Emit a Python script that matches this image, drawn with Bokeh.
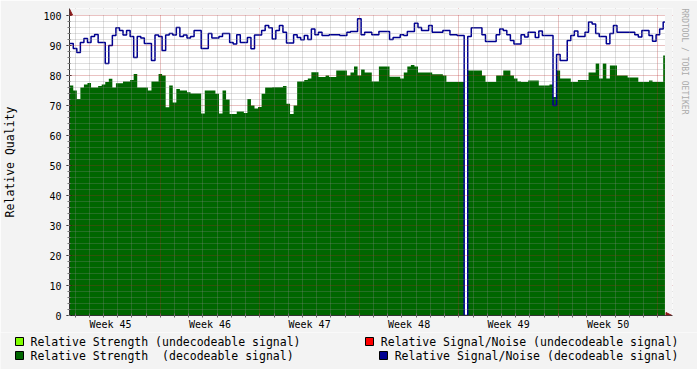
import numpy as np
from bokeh.plotting import figure
from bokeh.layouts import column
from bokeh.models import (Range1d, FixedTicker, Grid, BoxAnnotation, Arrow,
                          NormalHead, ColumnDataSource, Title)
from bokeh.core.properties import value
from bokeh.embed import file_html
from bokeh.resources import INLINE

# ---------------- data ----------------
week_numbers = [45, 46, 47, 48, 49, 50]
week_labels = ["Week 45", "Week 46", "Week 47", "Week 48", "Week 49", "Week 50"]
t_start = 0.625      # days since start of week 45
t_step = 0.25        # 6 hour samples
t_min, t_max = 0.61, 42.47

strength = [
    76.7, 75, 72.2, 76, 77, 77.5, 76, 76, 76.5, 77,
    77.8, 78.9, 76, 77.4, 77.4, 78, 78, 78.5, 80.5, 76,
    76, 76, 75, 78, 78, 80.5, 80, 69.4, 76.7, 71,
    75.5, 75, 75, 74.4, 74, 74, 74, 67.3, 75, 75,
    75, 73.9, 67.3, 75, 72, 67.2, 67.2, 68, 68, 67.5,
    72.2, 70, 69, 69.5, 73.9, 76, 76, 76.1, 76.1, 76.1,
    76.5, 70.6, 67.2, 70, 78, 78, 78.5, 79, 81.1, 81.1,
    79.5, 79.5, 80, 79.5, 79.5, 81.7, 81.7, 81.7, 80, 81,
    83, 80, 82, 81, 81, 78, 78, 83, 83, 83,
    79.6, 79.6, 79.6, 79, 81, 83, 83.5, 83, 81, 81,
    81, 81, 80.4, 80.4, 80.4, 80, 77.8, 77.8, 77.8, 77.8,
    77.8, 0, 81.7, 81.7, 81.7, 81.7, 80, 77.8, 77.8, 77.8,
    80, 80, 81.7, 81.7, 80, 79, 78, 77.8, 77.8, 78.3,
    78.3, 78.3, 76.7, 76.7, 76.7, 77, 72.8, 81.7, 79, 79,
    79, 77.8, 77.8, 78.5, 78.5, 78.5, 81, 81, 84, 79,
    84, 79, 83.3, 83.3, 80, 80, 80, 79.3, 79.3, 79.3,
    77.8, 77.8, 77.8, 78.3, 77.8, 77.8, 77.8, 86.7,
]

snr = [
    90.7, 89, 87.7, 91, 92.3, 91, 93, 93.7, 91, 91,
    84, 90, 93.3, 95.9, 95, 93.5, 95, 93, 86, 93,
    92.5, 90.7, 90.7, 85, 93.5, 93, 88.3, 93.5, 94, 93.5,
    96, 93, 93.5, 92.5, 93, 95, 95, 89, 89, 94,
    92.5, 92.5, 93, 94, 94, 91, 90.5, 93.6, 91, 91,
    92.7, 88.9, 93.5, 93.5, 95, 96.7, 95.9, 92.2, 95, 96.7,
    94.4, 90.8, 90.8, 93.6, 92.7, 91.9, 93.3, 92, 95.5, 93.6,
    94.4, 93.3, 93.3, 93.6, 93.6, 93.6, 93.3, 93.3, 94.4, 94.7,
    94.7, 98.9, 93.6, 94.4, 94.4, 93.6, 93.6, 94.7, 94.7, 94.7,
    92, 92.7, 92.7, 93.6, 93.3, 94.7, 94.7, 97.4, 96, 95,
    95, 96.7, 94.4, 94.4, 94.4, 95, 95, 93.6, 93.6, 93.3,
    93.3, 0, 93, 95.9, 95.9, 95.9, 93.6, 91.3, 91.3, 91.3,
    93.6, 95.5, 95, 93.6, 91.7, 90.5, 90.5, 93.6, 92.8, 94.4,
    94.4, 92.7, 94.8, 93.3, 93.3, 93.3, 70, 87, 85, 85,
    91.7, 93.3, 94.8, 93, 93, 94.4, 97.8, 97.2, 94, 93,
    93, 90.6, 94, 96.7, 94.4, 94.4, 94.4, 94.4, 94.4, 93.6,
    92.8, 95, 95, 93.3, 91.4, 93.6, 95.5, 97.8,
]

legend_labels = [
    "Relative Strength (undecodeable signal)",
    "Relative Strength\u00a0 (decodeable signal)",
    "Relative Signal/Noise (undecodeable signal)",
    "Relative Signal/Noise (decodeable signal)",
]
legend_colors = ["#80FF00", "#006600", "#FF0000", "#000090"]

# ---------------- styling / layout ----------------
FONT = "DejaVu Sans Mono"
BACK = "#F3F3F3"
GRID = "#8C8C8C"
MGRID = "#B22222"
ARROW = "#8B1A1A"
AXIS = "#333333"

W = 697
H_MAIN, H_LEG = 332, 37
LEFT, RIGHT, TOP, BOTTOM = 67, 24, 8, 17
DATA_W = 598                    # pixel width of the data area
px_per_day = DATA_W / (t_max - t_min)
px_per_unit = 3.0
x_end = t_max + 8 / px_per_day          # room for the x arrow
y_end = 100 + 7 / px_per_unit           # room for the y arrow

n = len(strength)
t = t_start + t_step * np.arange(n + 1)
src = ColumnDataSource(dict(
    t=t,
    s=np.append(np.array(strength, float), strength[-1]),
    q=np.append(np.array(snr, float), snr[-1]),
))

p = figure(width=W, height=H_MAIN, x_range=Range1d(t_min, x_end),
           y_range=Range1d(0, y_end), output_backend="svg",
           toolbar_location=None, min_border_left=LEFT, min_border_right=RIGHT,
           min_border_top=TOP, min_border_bottom=BOTTOM,
           background_fill_color="white", border_fill_color=BACK,
           outline_line_color=None)
p.frame_align = False

p.varea_step(x="t", y1=0, y2="s", step_mode="after", source=src,
             fill_color=legend_colors[1])
p.step(x="t", y="q", mode="after", source=src, line_color=legend_colors[3],
       line_width=1.5)

# grids (drawn over the area, like rrdtool)
p.xgrid.grid_line_color = None
p.ygrid.grid_line_color = None
days = list(range(1, 43))
week_edges = [d for d in days if d % 7 == 0]
minor_days = [d for d in days if d % 7 != 0]
for dim, ticks, col in [
    (0, minor_days, GRID),
    (0, week_edges, MGRID),
    (1, [v for v in range(2, 100, 2) if v % 10], GRID),
    (1, list(range(10, 101, 10)), MGRID),
]:
    p.add_layout(Grid(dimension=dim, ticker=FixedTicker(ticks=ticks),
                      grid_line_color=col, grid_line_alpha=0.55,
                      grid_line_dash="1 1", level="guide"))

# cover the arrow margins with the page background
p.add_layout(BoxAnnotation(bottom=100 + 0.4 / px_per_unit, fill_color=BACK,
                           fill_alpha=1, line_color=None))
p.add_layout(BoxAnnotation(left=t_max + 0.4 / px_per_day, fill_color=BACK,
                           fill_alpha=1, line_color=None))

# axes
week_mid = [7 * (w - week_numbers[0]) + 3.5 for w in week_numbers]
p.xaxis.ticker = FixedTicker(ticks=week_mid, minor_ticks=days)
p.xaxis.major_label_overrides = {m: l for m, l in zip(week_mid, week_labels)}
p.xaxis.major_tick_line_color = None
p.xaxis.major_tick_in = 0
p.xaxis.major_tick_out = 2
p.xaxis.minor_tick_line_color = "#666666"
p.xaxis.minor_tick_in = 2
p.xaxis.minor_tick_out = 2
p.xaxis.major_label_standoff = 1
p.yaxis.ticker = FixedTicker(ticks=list(range(0, 101, 10)),
                             minor_ticks=list(range(0, 101, 2)))
p.yaxis.major_tick_in = 2
p.yaxis.major_tick_out = 3
p.yaxis.minor_tick_in = 1
p.yaxis.minor_tick_out = 2
p.yaxis.minor_tick_line_color = "#777777"
p.yaxis.major_label_standoff = 5
p.yaxis.axis_label = "Relative Quality"
p.yaxis.axis_label_text_font = FONT
p.yaxis.axis_label_text_font_size = "11.5px"
p.yaxis.axis_label_text_font_style = "normal"
p.yaxis.axis_label_text_color = "black"
p.yaxis.axis_label_standoff = 23
for ax in (p.xaxis, p.yaxis):
    ax.axis_line_color = AXIS
    ax.major_label_text_font = FONT
    ax.major_label_text_font_size = "10px"
    ax.major_label_text_color = "black"

# arrows at axis ends
p.add_layout(Arrow(end=NormalHead(size=6, fill_color=ARROW, line_color=ARROW),
                   x_start=t_max, y_start=0, x_end=x_end - 0.5 / px_per_day,
                   y_end=0, line_color=AXIS, line_width=1))
p.add_layout(Arrow(end=NormalHead(size=6, fill_color=ARROW, line_color=ARROW),
                   x_start=t_min, y_start=100, x_end=t_min,
                   y_end=y_end - 0.5 / px_per_unit, line_color=AXIS,
                   line_width=1))

# watermark on the right side
p.add_layout(Title(text="RRDTOOL / TOBI OETIKER", align="left",
                   text_font=FONT, text_font_size="8px",
                   text_font_style="normal", text_color="#AAAAAA",
                   standoff=14), "right")

# ---------------- legend strip (pixel coordinates, y downwards) ----------------
leg = figure(width=W, height=H_LEG, x_range=Range1d(0, W),
             y_range=Range1d(H_LEG, 0), output_backend="svg",
             toolbar_location=None, min_border=0, min_border_left=0,
             min_border_right=0, min_border_top=0, min_border_bottom=0,
             background_fill_color=BACK, border_fill_color=BACK,
             outline_line_color=None)
leg.frame_align = False
leg.axis.visible = False
leg.grid.visible = False

row_y = [9, 23, 9, 23]               # row centres
box_x = [15, 15, 365, 379]           # left edge of colour boxes
box = 8
leg.quad(left=box_x, right=[b + box for b in box_x],
         top=[y - box / 2 for y in row_y], bottom=[y + box / 2 for y in row_y],
         fill_color=legend_colors, line_color="black", line_width=1)
leg.text(x=[30, 30], y=row_y[:2], text=legend_labels[:2],
         text_font=value(FONT), text_font_size=value("11.5px"),
         text_align="left", text_baseline="middle", text_color="black")
leg.text(x=[678, 678], y=row_y[2:], text=legend_labels[2:],
         text_font=value(FONT), text_font_size=value("11.5px"),
         text_align="right", text_baseline="middle", text_color="black")

layout = column(p, leg, spacing=0)
open("out.html", "w").write(file_html(layout, INLINE))
